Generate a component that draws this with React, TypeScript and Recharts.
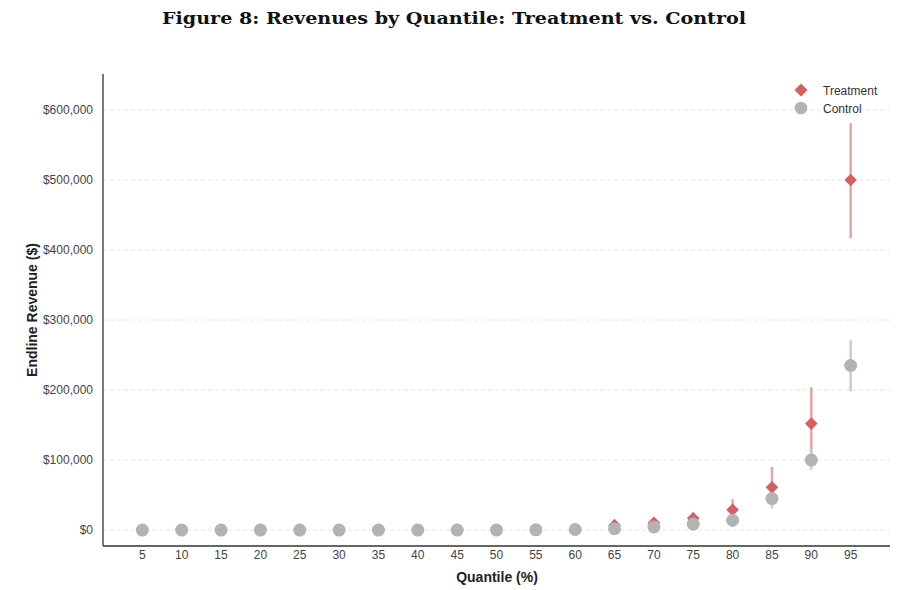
import React from 'react';
import { ScatterChart, Scatter, XAxis, YAxis, ReferenceLine, ErrorBar } from 'recharts';

const quantiles = [5, 10, 15, 20, 25, 30, 35, 40, 45, 50, 55, 60, 65, 70, 75, 80, 85, 90, 95];

const treatmentRevenue = [0, 0, 0, 0, 0, 0, 0, 0, 0, 0, 500, 1000, 7000, 10500, 17000, 29000, 61000, 152000, 500000];
const treatmentLow = [0, 0, 0, 0, 0, 0, 0, 0, 0, 0, 0, 0, 3000, 6000, 12000, 18000, 35000, 100000, 417000];
const treatmentHigh = [0, 0, 0, 0, 0, 0, 0, 0, 0, 0, 3000, 5000, 11000, 15000, 23000, 44000, 90000, 204000, 581000];

const controlRevenue = [0, 0, 0, 0, 0, 0, 0, 0, 0, 0, 300, 800, 2000, 4500, 8500, 14000, 45000, 100000, 235000];
const controlLow = [0, 0, 0, 0, 0, 0, 0, 0, 0, 0, 0, 0, 0, 2000, 5000, 4000, 31000, 86000, 198000];
const controlHigh = [0, 0, 0, 0, 0, 0, 0, 0, 0, 0, 1500, 3000, 5000, 8000, 13000, 25000, 60000, 115000, 271000];

const yTicks = [0, 100000, 200000, 300000, 400000, 500000, 600000];
const xTicks = quantiles;

const TREAT_COLOR = '#d65f5f';
const TREAT_ERR = '#e9a3a3';
const CTRL_COLOR = '#b3b3b3';
const CTRL_ERR = '#cccccc';

const treatmentData = quantiles.map((q, i) => ({
  q,
  v: treatmentRevenue[i],
  err: [treatmentRevenue[i] - treatmentLow[i], treatmentHigh[i] - treatmentRevenue[i]],
}));
const controlData = quantiles.map((q, i) => ({
  q,
  v: controlRevenue[i],
  err: [controlRevenue[i] - controlLow[i], controlHigh[i] - controlRevenue[i]],
}));

const fmtMoney = (v: number) => `$${Math.round(v).toLocaleString('en-US')}`;

const DiamondShape = (props: any) => {
  const { cx, cy } = props;
  if (cx == null || cy == null) return null;
  const h = 6.3;
  return (
    <polygon
      points={`${cx},${cy - h} ${cx + h},${cy} ${cx},${cy + h} ${cx - h},${cy}`}
      fill={TREAT_COLOR}
    />
  );
};

const CircleShape = (props: any) => {
  const { cx, cy } = props;
  if (cx == null || cy == null) return null;
  return <circle cx={cx} cy={cy} r={6.5} fill={CTRL_COLOR} />;
};

const sans = 'Arial, "Liberation Sans", Helvetica, sans-serif';

export default function App() {
  return (
    <div style={{ position: 'absolute', left: 0, top: 0, width: 900, height: 590, background: '#fff' }}>
      <ScatterChart
        width={900}
        height={590}
        margin={{ top: 74, right: 10, bottom: 14, left: 0 }}
      >
        <XAxis
          type="number"
          dataKey="q"
          domain={[0, 100]}
          ticks={xTicks}
          interval={0}
          height={30}
          tickSize={0}
          tickMargin={4}
          tickLine={false}
          axisLine={{ stroke: '#333', strokeWidth: 1.3 }}
          tick={{ fill: '#444', fontSize: 12, fontFamily: sans }}
        />
        <YAxis
          type="number"
          dataKey="v"
          domain={[-22800, 651400]}
          allowDataOverflow={true}
          ticks={yTicks}
          interval={0}
          width={103}
          tickSize={0}
          tickMargin={10}
          tickLine={false}
          tickFormatter={fmtMoney}
          axisLine={{ stroke: '#333', strokeWidth: 1.3 }}
          tick={{ fill: '#444', fontSize: 12, fontFamily: sans }}
        />
        {yTicks.map((t) => (
          <ReferenceLine key={t} y={t} stroke="#e4e4e4" strokeDasharray="4 3" strokeWidth={1} />
        ))}
        <Scatter
          name="Treatment"
          data={treatmentData}
          dataKey="v"
          shape={DiamondShape}
          isAnimationActive={false}
        >
          <ErrorBar dataKey="err" direction="y" width={0} stroke={TREAT_ERR} strokeWidth={2.5} />
        </Scatter>
        <Scatter
          name="Control"
          data={controlData}
          dataKey="v"
          shape={CircleShape}
          isAnimationActive={false}
        >
          <ErrorBar dataKey="err" direction="y" width={0} stroke={CTRL_ERR} strokeWidth={2.5} />
        </Scatter>
      </ScatterChart>
      <svg
        width={900}
        height={590}
        style={{ position: 'absolute', left: 0, top: 0, pointerEvents: 'none' }}
      >
        <text
          x={454}
          y={24}
          textAnchor="middle"
          fontFamily='"DejaVu Serif", "Liberation Serif", serif'
          fontWeight="bold"
          fontSize={17}
          fill="#111"
          textLength={584}
          lengthAdjust="spacingAndGlyphs"
        >
          Figure 8: Revenues by Quantile: Treatment vs. Control
        </text>
        <text
          x={497}
          y={582}
          textAnchor="middle"
          fontFamily={sans}
          fontWeight="bold"
          fontSize={14}
          fill="#222"
        >
          Quantile (%)
        </text>
        <text
          x={37}
          y={310}
          textAnchor="middle"
          transform="rotate(-90 37 310)"
          fontFamily={sans}
          fontWeight="bold"
          fontSize={14}
          fill="#222"
        >
          Endline Revenue ($)
        </text>
        <polygon points="801,83.5 807.5,90 801,96.5 794.5,90" fill={TREAT_COLOR} />
        <text x={823} y={94.5} fontFamily={sans} fontSize={12} fill="#333">
          Treatment
        </text>
        <circle cx={801} cy={108} r={6.3} fill={CTRL_COLOR} />
        <text x={823} y={112.5} fontFamily={sans} fontSize={12} fill="#333">
          Control
        </text>
      </svg>
    </div>
  );
}
